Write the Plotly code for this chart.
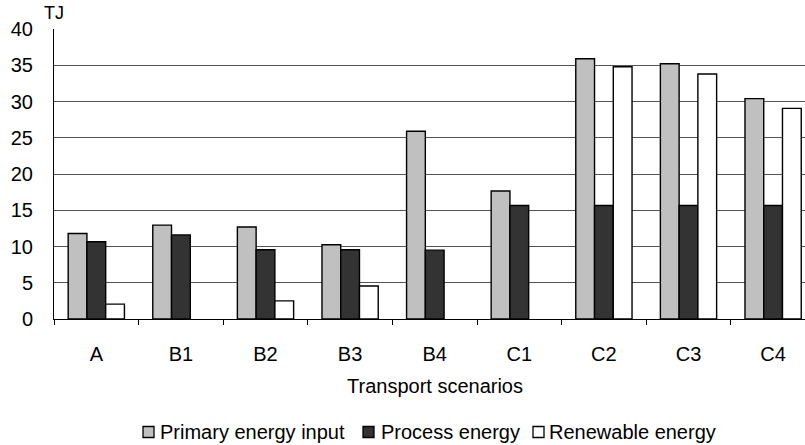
import plotly.graph_objects as go

categories = ["A", "B1", "B2", "B3", "B4", "C1", "C2", "C3", "C4"]
primary = [11.8, 12.95, 12.7, 10.25, 25.9, 17.65, 35.9, 35.2, 30.4]
process = [10.65, 11.6, 9.55, 9.55, 9.5, 15.65, 15.65, 15.65, 15.65]
renewable = [2.05, None, 2.5, 4.55, None, None, 34.8, 33.8, 29.05]
y_ticks = [0, 5, 10, 15, 20, 25, 30, 35, 40]
series_names = ["Primary energy input", "Process energy", "Renewable energy"]
series_colors = ["#c0c0c0", "#333333", "#ffffff"]

FONT = "Liberation Sans, Arial, sans-serif"
W, H = 805, 445
ML, MR, MT, MB = 54, 0, 29, 126
PW, PH = W - ML - MR, H - MT - MB


def px_x(px):
    return (px - ML) / PW


def px_y(py):
    return (H - MB - py) / PH


fig = go.Figure()
for name, vals, col in zip(series_names, [primary, process, renewable], series_colors):
    fig.add_trace(go.Bar(x=categories, y=vals, name=name, showlegend=False,
                         marker=dict(color=col, line=dict(color="#000000", width=1.4))))

# manual legend (symbol left edges and text starts in pixels)
legend_sym_x = [143, 363, 533]
legend_txt_x = [158, 379, 547]
legend_y = 432
shapes, annotations = [], []
for name, col, sx, tx in zip(series_names, series_colors, legend_sym_x, legend_txt_x):
    shapes.append(dict(type="rect", xref="paper", yref="paper",
                       x0=px_x(sx), x1=px_x(sx + 11), y0=px_y(legend_y + 5.5), y1=px_y(legend_y - 5.5),
                       fillcolor=col, line=dict(color="#000000", width=1.3)))
    annotations.append(dict(text=name, xref="paper", yref="paper", x=px_x(tx), y=px_y(legend_y),
                            xanchor="left", yanchor="middle", showarrow=False,
                            font=dict(size=20)))

annotations.append(dict(text="TJ", xref="paper", yref="paper", x=px_x(42), y=px_y(25),
                        xanchor="left", yanchor="bottom", showarrow=False, font=dict(size=18)))
annotations.append(dict(text="Transport scenarios", xref="paper", yref="paper",
                        x=px_x(435), y=px_y(386), xanchor="center", yanchor="middle",
                        showarrow=False, font=dict(size=20)))

fig.update_layout(
    width=W, height=H,
    margin=dict(l=ML, r=MR, t=MT, b=MB),
    paper_bgcolor="white", plot_bgcolor="white",
    barmode="group", bargap=0.335, bargroupgap=0,
    font=dict(family=FONT, size=20, color="#000000"),
    showlegend=False,
    xaxis=dict(range=[-0.5, 8.377], showline=True, linecolor="#000000", linewidth=1,
               ticks="outside", tickson="boundaries", ticklen=5, tickcolor="#000000",
               ticklabelstandoff=17, tickfont=dict(size=20), showgrid=False),
    yaxis=dict(range=[0, 40], tickvals=y_ticks, showline=True, linecolor="#000000",
               linewidth=1, ticks="", showgrid=True, gridcolor="#555555", gridwidth=1,
               tickfont=dict(size=20), ticklabelstandoff=16, zeroline=False),
    shapes=shapes,
    annotations=annotations,
)
fig.write_html("out.html")
